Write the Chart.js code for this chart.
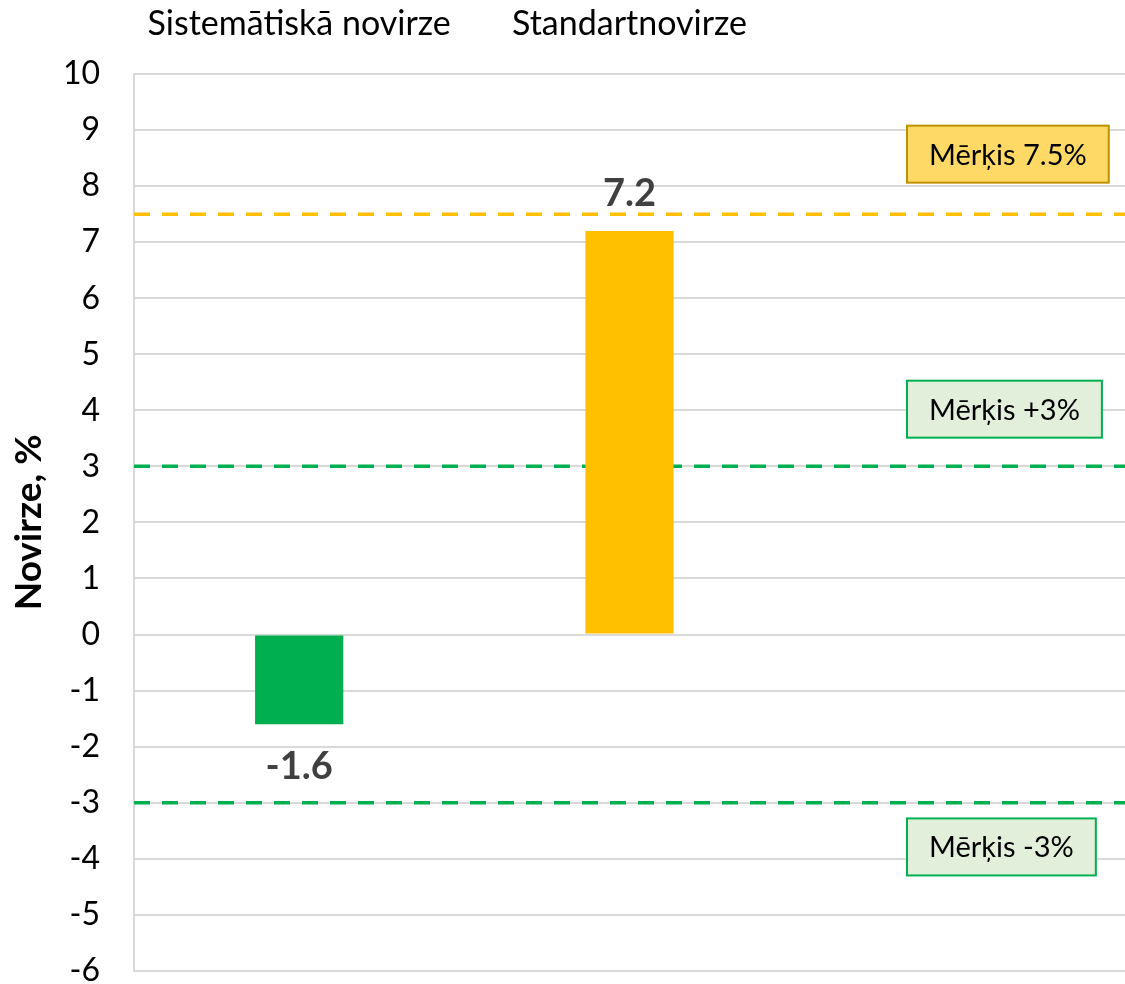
<!DOCTYPE html>
<html>
<head>
<meta charset="utf-8">
<script src="https://cdn.jsdelivr.net/npm/chart.js@4"></script>
<style>
html,body{margin:0;padding:0;background:#fff;overflow:hidden;}
#c{display:block;}
</style>
</head>
<body>
<canvas id="c" width="1125" height="1024"></canvas>
<script>
const categories = ['Sistemātiskā novirze', 'Standartnovirze', ''];
const values = [-1.6, 7.2, null];
const barColors = ['#00B050', '#FFC000', '#FFC000'];
const yMin = -6, yMax = 10, yStep = 1;
const targetLines = [
  {value: 7.5, color: '#FFC000'},
  {value: 3, color: '#00B050'},
  {value: -3, color: '#00B050'}
];
const targetBoxes = [
  {text: 'Mērķis 7.5%', y: 8.57, fill: '#FFD966', border: '#BF9000'},
  {text: 'Mērķis +3%', y: 4.02, fill: '#E2EFDA', border: '#00B050'},
  {text: 'Mērķis -3%', y: -3.79, fill: '#E2EFDA', border: '#00B050'}
];
const FONT = 'Lato';

const overlay = {
  id: 'overlay',
  beforeDatasetsDraw(chart) {
    const ctx = chart.ctx, a = chart.chartArea, ys = chart.scales.y;
    ctx.save();
    targetLines.forEach(l => {
      const y = ys.getPixelForValue(l.value);
      ctx.strokeStyle = l.color;
      ctx.lineWidth = 3.5;
      ctx.setLineDash([16, 12]);
      ctx.beginPath();
      ctx.moveTo(a.left, y);
      ctx.lineTo(a.right, y);
      ctx.stroke();
    });
    ctx.restore();
  },
  afterDatasetsDraw(chart) {
    const ctx = chart.ctx, ys = chart.scales.y;
    ctx.save();
    const meta = chart.getDatasetMeta(0);
    ctx.font = 'bold 38px ' + FONT;
    ctx.fillStyle = '#404040';
    ctx.textAlign = 'center';
    ctx.textBaseline = 'middle';
    meta.data.forEach((bar, i) => {
      const v = values[i];
      if (v === null) return;
      const y = v >= 0 ? bar.y - 37 : bar.y + 43;
      ctx.fillText(String(v), bar.x, y);
    });
    ctx.font = '29px ' + FONT;
    targetBoxes.forEach(b => {
      const cy = ys.getPixelForValue(b.y);
      const tw = ctx.measureText(b.text).width;
      const w = tw + 44, h = 57;
      const x = 907;
      ctx.fillStyle = b.fill;
      ctx.fillRect(x, cy - h / 2, w, h);
      ctx.strokeStyle = b.border;
      ctx.lineWidth = 2;
      ctx.setLineDash([]);
      ctx.strokeRect(x, cy - h / 2, w, h);
      ctx.fillStyle = '#000';
      ctx.textAlign = 'left';
      ctx.fillText(b.text, x + 22, cy + 1);
    });
    ctx.restore();
  }
};

new Chart(document.getElementById('c'), {
  type: 'bar',
  data: {
    labels: categories,
    datasets: [{
      data: values,
      backgroundColor: barColors,
      borderWidth: 0,
      categoryPercentage: 1,
      barPercentage: 0.267
    }]
  },
  options: {
    responsive: false,
    animation: false,
    events: [],
    layout: {padding: {top: 0, right: 0, bottom: 13, left: 0}},
    plugins: {legend: {display: false}, tooltip: {enabled: false}, title: {display: false}},
    scales: {
      x: {
        position: 'top',
        grid: {display: false},
        border: {display: false},
        ticks: {
          color: '#000',
          font: {family: FONT, size: 34},
          padding: 22,
          maxRotation: 0,
          autoSkip: false
        },
        afterFit(s) { s.height = 74; }
      },
      y: {
        min: yMin, max: yMax,
        grid: {color: '#D9D9D9', lineWidth: 2, drawTicks: false},
        border: {color: '#D9D9D9', width: 2},
        ticks: {
          stepSize: yStep,
          color: '#000',
          font: {family: FONT, size: 32},
          padding: 34
        },
        title: {
          display: true,
          text: 'Novirze, %',
          color: '#000',
          font: {family: FONT, size: 37, weight: 'bold'},
          padding: {top: 7, bottom: 0}
        },
        afterFit(s) { s.width = 134; }
      }
    }
  },
  plugins: [overlay]
});
</script>
</body>
</html>
